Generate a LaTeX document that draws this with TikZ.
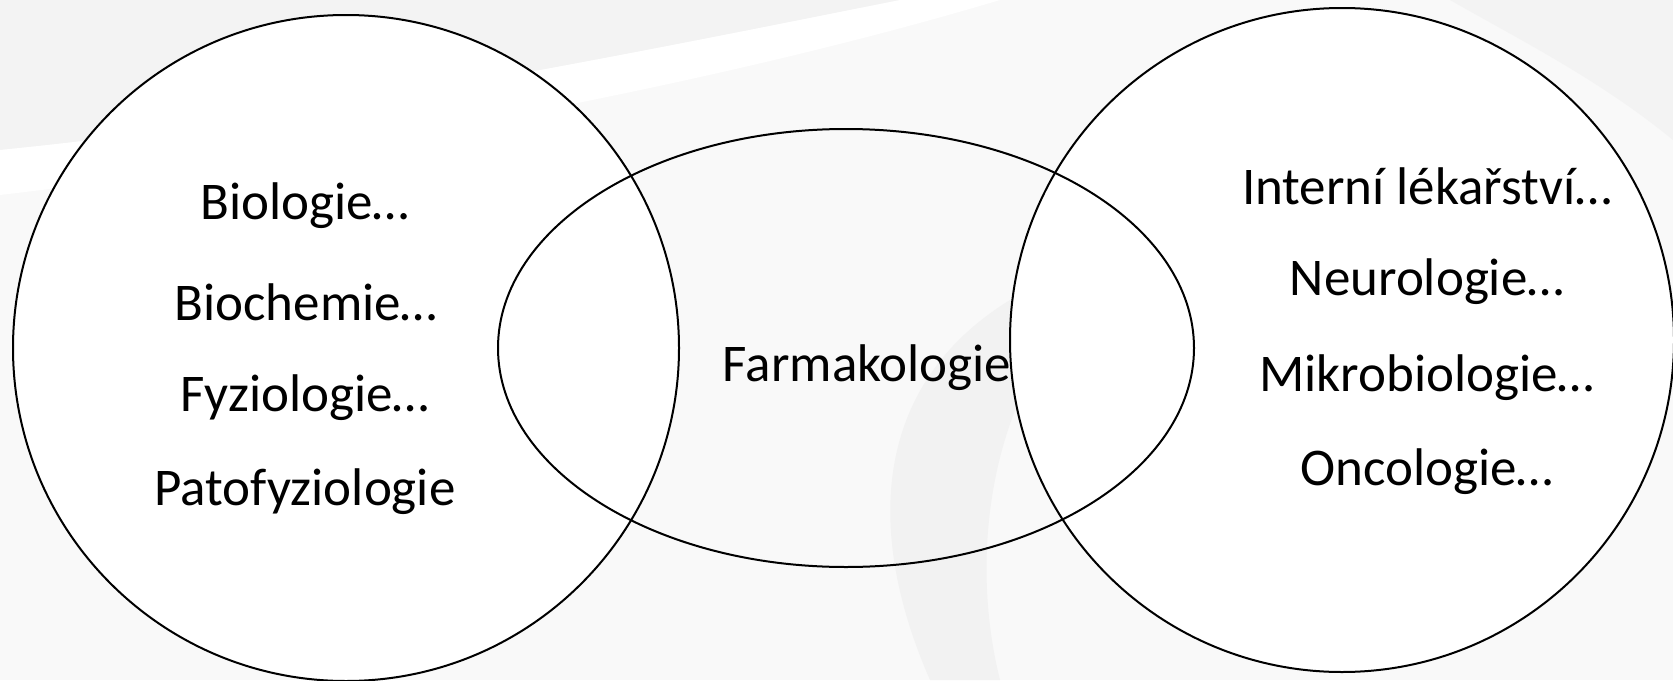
\documentclass[tikz,border=0pt]{standalone}
\usepackage{fontspec}
\setmainfont{Carlito}
\usetikzlibrary{shapes.geometric}
\definecolor{bggray}{HTML}{F3F3F3}
\definecolor{bglight}{HTML}{F9F9F9}
\definecolor{swirl}{HTML}{F2F2F2}
\tikzset{
  venn/.style={draw=black, line width=2pt, inner sep=0pt, outer sep=0pt},
  lbl/.style={font=\fontsize{53}{60}\selectfont, inner sep=0pt, anchor=center}
}
\begin{document}
\begin{tikzpicture}[x=1pt,y=-1pt]
\useasboundingbox (0,0) rectangle (1673,680);
% background
\fill[bglight] (0,0) rectangle (1673,680);
\fill[bggray] (0,0) -- (900,0) .. controls (600,60) and (300,120) .. (0,150) -- cycle;
\fill[white] (0,150) .. controls (300,120) and (600,60) .. (900,0) -- (1000,0) .. controls (700,90) and (300,160) .. (0,195) -- cycle;
\fill[bggray] (1450,0) -- (1673,0) -- (1673,140) .. controls (1600,80) and (1520,40) .. (1450,0) -- cycle;
\fill[swirl] (1010,300) .. controls (880,380) and (860,520) .. (930,680) -- (1000,680) .. controls (970,560) and (990,420) .. (1060,330) -- cycle;
% shapes
\node[venn, circle, fill=white, minimum size=666pt] (L) at (346,348) {};
\node[venn, circle, fill=white, minimum size=664pt] (R) at (1342,340) {};
\node[venn, ellipse, minimum width=696pt, minimum height=438pt] (M) at (846,348) {};
% labels
\node[lbl] (b1) at (305,206) {Biologie…};
\node[lbl] (b2) at (306,302) {Biochemie…};
\node[lbl] (b3) at (305,398) {Fyziologie…};
\node[lbl] (b4) at (305,492) {Patofyziologie};
\node[lbl] (f) at (867,368) {Farmakologie};
\node[lbl] (r1) at (1427,186) {Interní lékařství…};
\node[lbl] (r2) at (1427,282) {Neurologie…};
\node[lbl] (r3) at (1427,378) {Mikrobiologie…};
\node[lbl] (r4) at (1427,472) {Oncologie…};
\end{tikzpicture}
\end{document}
